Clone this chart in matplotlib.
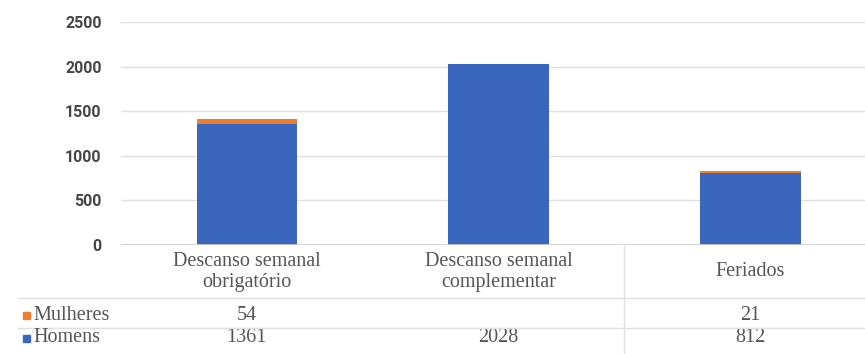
import numpy as np
import matplotlib.pyplot as plt
from matplotlib.transforms import blended_transform_factory

# dados
categorias = ["Descanso semanal\nobrigatório", "Descanso semanal\ncomplementar", "Feriados"]
homens = [1361, 2028, 812]
mulheres = [54, np.nan, 21]
series = ["Mulheres", "Homens"]
cores = {"Homens": "#3a66bd", "Mulheres": "#ed7d31"}
yticks = [0, 500, 1000, 1500, 2000, 2500]

W, H = 865, 354
fig = plt.figure(figsize=(W / 100, H / 100), dpi=100)
fig.patch.set_facecolor("white")

# área do gráfico (passa um pouco da borda direita)
x0, x1 = 121, 876
ytop, ybot = 22, 245
ax = fig.add_axes([x0 / W, 1 - ybot / H, (x1 - x0) / W, (ybot - ytop) / H])
ax.set_facecolor("none")

x = np.arange(len(categorias))
largura = 0.40
ax.bar(x, homens, largura, color=cores["Homens"], zorder=3)
ax.bar(x, np.nan_to_num(mulheres), largura, bottom=homens,
       color=cores["Mulheres"], zorder=3)

ax.set_xlim(-0.5, len(categorias) - 0.5)
ax.set_ylim(0, 2500)
ax.set_yticks(yticks)
ax.set_yticklabels([str(v) for v in yticks], fontfamily="Roboto",
                   fontweight="bold", fontsize=11.5, color="#454545")
ax.tick_params(axis="y", length=0, pad=14)
ax.set_xticks([])
for s in ax.spines.values():
    s.set_visible(False)
ax.grid(axis="y", color="#e0e0e0", linewidth=1, zorder=0)
ax.axhline(0, color="#cfcfcf", linewidth=1.2, zorder=4)

# tabela de dados abaixo do eixo
tr = blended_transform_factory(ax.transData, fig.transFigure)
fy = lambda py: 1 - py / H
serif = dict(fontfamily="Liberation Serif", color="#555555", fontsize=14.5)

for i, cat in enumerate(categorias):
    ax.text(i, fy(272), cat, transform=tr, ha="center", va="center",
            linespacing=1.12, clip_on=False, **serif)
    vals = {"Mulheres": mulheres[i], "Homens": homens[i]}
    for nome, py in zip(series, [315, 338]):
        v = vals[nome]
        if not np.isnan(v):
            ax.text(i, fy(py), str(int(v)), transform=tr, ha="center",
                    va="center", clip_on=False, **serif)

linha = dict(color="#e0e0e0", linewidth=1.0)
for py in [298, 328]:
    fig.add_artist(plt.Line2D([18 / W, 1], [fy(py), fy(py)], **linha))
ax.plot([1.5, 1.5], [fy(246), fy(354)], transform=tr, clip_on=False, **linha)

# legenda na primeira coluna da tabela
for nome, py in zip(series, [315, 338]):
    fig.patches.append(plt.Rectangle((23 / W, fy(py) - 3.5 / H), 7 / W, 7 / H,
                                     transform=fig.transFigure,
                                     color=cores[nome]))
    fig.text(33 / W, fy(py), nome, ha="left", va="center", **serif)

fig.savefig("out.png", dpi=100)
